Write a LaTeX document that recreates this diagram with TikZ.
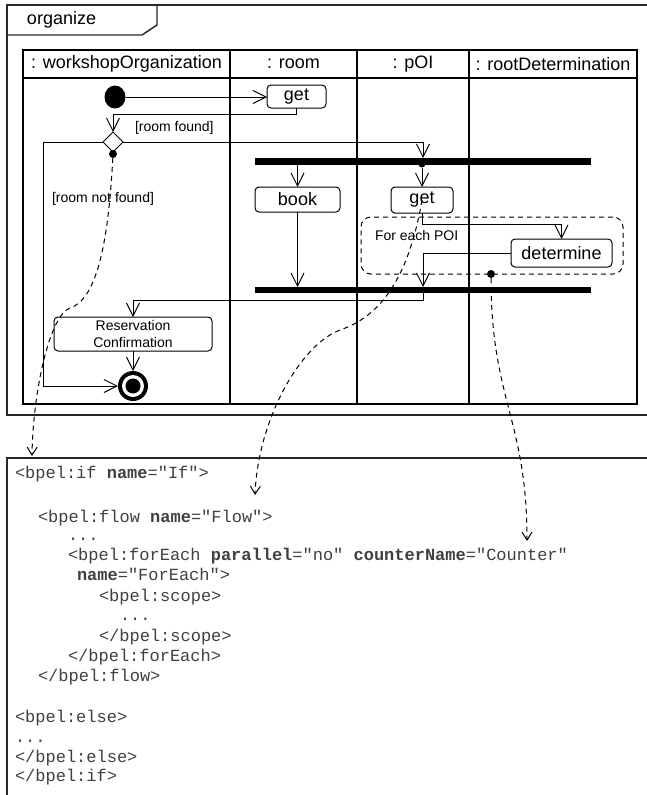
\documentclass[tikz,border=0pt]{standalone}
\usepackage{fontspec}
\setmainfont{Liberation Sans}
\setmonofont{Liberation Mono}
\usetikzlibrary{arrows.meta,shapes.geometric}

\newcommand\dgHead{\fontsize{18}{21}\selectfont}
\newcommand\dgGuard{\fontsize{14}{17}\selectfont}
\newcommand\dgCode{\ttfamily\fontsize{17}{20}\selectfont}

\begin{document}
\begin{tikzpicture}[x=1pt,y=-1pt,
  every node/.style={inner sep=0pt, outer sep=0pt},
  frameline/.style={line width=1.4pt, draw=black!85},
  lane/.style={line width=1.2pt},
  action/.style={draw, rounded corners=4pt, line width=1pt, font=\dgHead, align=center},
  bar/.style={fill=black, minimum width=336pt, minimum height=7pt},
  flow/.style={line width=1pt, -{Straight Barb[length=13pt,width=13pt]}},
  trace/.style={line width=1pt, dash pattern=on 5pt off 4pt, -{Straight Barb[length=8pt,width=10pt]}},
  guard/.style={font=\dgGuard, anchor=west},
  code/.style={font=\dgCode, anchor=base west, text=black!75},
  pin/.style={circle, fill=black, minimum size=8pt},
]
\useasboundingbox (0,0) rectangle (647,795);
\fill[white] (0,0) rectangle (647,795);

% activity frame with its name tab
\draw[frameline] (647,5) -- (7,5) -- (7,415) -- (647,415);
\draw[frameline] (7,35) -- (142,35) -- (157,25) -- (157,5);
\node[font=\dgHead, anchor=west] (title) at (27,20) {organize};

% swimlanes
\draw[lane] (23,50) rectangle (637,404);
\draw[lane] (23,78) -- (637,78);
\foreach \x in {230,357,469} \draw[lane] (\x,50) -- (\x,404);
\node[font=\dgHead] (laneWork) at (126.5,64) {: workshopOrganization};
\node[font=\dgHead] (laneRoom) at (293.5,64) {: room};
\node[font=\dgHead] (lanePoi)  at (413,64)   {: pOI};
\node[font=\dgHead] (laneRoot) at (553,64)   {: rootDetermination};

% nodes
\node[ellipse, fill=black, minimum width=21pt, minimum height=23pt] (start) at (115,97) {};
\node[action, minimum width=59pt, minimum height=23pt] (getRoom) at (296.5,96.5) {get};
\node[diamond, draw, fill=white, line width=1pt, aspect=1, minimum width=20pt, minimum height=20pt] (choice) at (113,142) {};
\node[pin] (pinElse) at (113,154) {};
\node[bar] (fork) at (423,161.5) {};
\node[pin, minimum size=7pt] (pinFork) at (422,164) {};
\node[action, minimum width=85pt, minimum height=25pt] (book) at (297.5,199.5) {book};
\node[action, minimum width=62pt, minimum height=26pt] (getPoi) at (422,200) {get};
\node[draw, dash pattern=on 5pt off 4pt, rounded corners=10pt, line width=1pt,
      minimum width=262pt, minimum height=57pt] (loop) at (492,245.5) {};
\node[guard] (loopLabel) at (375,235) {For each POI};
\node[action, minimum width=101pt, minimum height=28pt] (determine) at (561.5,253) {determine};
\node[pin] (pinLoop) at (491,274) {};
\node[bar, minimum height=6pt] (join) at (423,290) {};
\node[action, minimum width=158pt, minimum height=34pt, font=\dgGuard] (confirm) at (133,334) {Reservation\\Confirmation};
\node[circle, fill=black, minimum size=30pt] (end) at (133,386) {};
\node[circle, fill=white, minimum size=22pt] (endRing) at (end) {};
\node[circle, fill=black, minimum size=15pt] (endDot) at (end) {};

% guards
\node[guard] (guardFound) at (135,128) {[room found]};
\node[guard] (guardNot) at (52,199) {[room not found]};

% control flow
\draw[flow] (start) -- (start.east -| getRoom.west);
\draw[flow] (getRoom.south) -- ++(0,6) -| (choice.north);
\draw[flow] (choice.east) -| (fork.north);
\draw[flow] (pinFork) -- (getPoi.north);
\draw[flow] (fork.south -| book.north) -- (book.north);
\draw[flow] (book.south) -- (book.south |- join.north);
\draw[flow] (getPoi.south) -- ++(0,11) -| (determine.north);
\draw[flow] (determine.west) -| (join.north);
\draw[flow] (join.south) -- ++(0,7) -| (confirm.north);
\draw[flow] (confirm.south) -- (end.north);
\draw[flow] (choice.west) -- ++(-60,0) |- (end.west);

% BPEL listing
\draw[frameline] (647,458) -- (7,458) -- (7,795);
\node[code] (l1)  at (15,478)  {<bpel:if \textbf{name}="If">};
\node[code] (l2)  at (38,522)  {<bpel:flow \textbf{name}="Flow">};
\node[code] (l3)  at (68,540)  {...};
\node[code] (l4)  at (68,560)  {<bpel:forEach \textbf{parallel}="no" \textbf{counterName}="Counter"};
\node[code] (l5)  at (77,580)  {\textbf{name}="ForEach">};
\node[code] (l6)  at (99,601)  {<bpel:scope>};
\node[code] (l7)  at (120,620) {...};
\node[code] (l8)  at (99,641)  {</bpel:scope>};
\node[code] (l9)  at (68,661)  {</bpel:forEach>};
\node[code] (l10) at (38,681)  {</bpel:flow>};
\node[code] (l11) at (15,722)  {<bpel:else>};
\node[code] (l12) at (15,742)  {...};
\node[code] (l13) at (15,762)  {</bpel:else>};
\node[code] (l14) at (15,781)  {</bpel:if>};

% traces from the model into the listing
\coordinate (ifTag) at (32,456);
\coordinate (flowTag) at (255,495);
\coordinate (eachTag) at (527,541);
\draw[trace] (pinElse) .. controls (108,250) and (95,300) .. (70,308)
  .. controls (50,315) and (33,390) .. (ifTag);
\draw[trace] (getPoi.center) .. controls (410,270) and (385,315) .. (340,330)
  .. controls (300,345) and (258,420) .. (flowTag);
\draw[trace] (pinLoop) .. controls (491,400) and (527,420) .. (eachTag);
\end{tikzpicture}
\end{document}
